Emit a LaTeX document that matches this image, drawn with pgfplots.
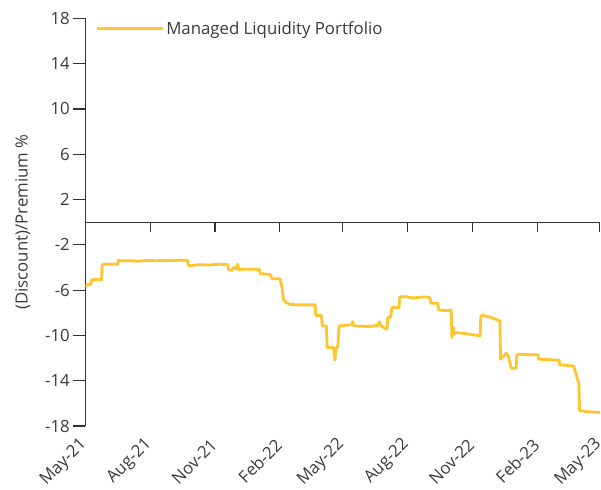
\documentclass[border=0pt]{standalone}
\usepackage{fontspec}
\setmainfont{Open Sans}
\usepackage{pgfplots}
\pgfplotsset{compat=1.18}
\definecolor{mlpgold}{HTML}{FFC52E}
\definecolor{axisgray}{HTML}{333333}
\definecolor{textgray}{HTML}{3A3A3A}

\begin{document}
\begin{tikzpicture}
\begin{axis}[
    scale only axis,
    width=514.7bp,
    height=407.6bp,
    xmin=0, xmax=730,
    ymin=-18, ymax=18,
    axis y line*=left,
    axis x line*=bottom,
    axis line style={-, draw=axisgray, line width=1.1bp},
    x axis line style={draw=none},
    ytick={-18,-14,-10,-6,-2,2,6,10,14,18},
    yticklabels={-18,-14,-10,-6,-2,2,6,10,14,18},
    ytick align=outside,
    major tick length=12bp,
    ytick style={draw=axisgray, line width=1.1bp},
    xtick={0,92,184,276,365,457,549,641,730},
    xticklabels={May-21,Aug-21,Nov-21,Feb-22,May-22,Aug-22,Nov-22,Feb-23,May-23},
    xtick style={draw=none},
    xtick align=inside,
    xticklabel style={xshift=-1bp, yshift=-16bp, inner sep=0pt, rotate=45, anchor=east},
    tick label style={font=\fontsize{16.8bp}{20bp}\selectfont, text=textgray},
    ylabel={(Discount)/Premium \%},
    ylabel style={font=\fontsize{16.8bp}{20bp}\selectfont, text=textgray, yshift=8bp},
    legend style={draw=none, fill=none, at={(axis description cs:0,1)},
        anchor=west, xshift=10bp, yshift=-10bp, inner sep=0pt,
        font=\fontsize{16.8bp}{20bp}\selectfont, text=textgray},
    legend image code/.code={\draw[#1] (0bp,0bp) -- (66bp,0bp);},
]
\draw[axisgray, line width=1.1bp] (axis cs:0,0) -- (axis cs:730,0);
\pgfplotsinvokeforeach{92,184,276,365,457,549,641,730}{
  \draw[axisgray, line width=1.1bp] (axis cs:#1,0) -- ([yshift=-10bp]axis cs:#1,0);
}
\addplot[mlpgold, line width=2.8bp, line join=round] coordinates {
(0,-5.64) (2,-5.6) (3,-5.5) (8,-5.5) (9,-5.1) (14,-5.05) (23,-5.1)
(24,-3.8) (25,-3.73) (40,-3.7) (46,-3.73) (47,-3.35) (55,-3.42)
(65,-3.4) (75,-3.45) (85,-3.38) (100,-3.4) (115,-3.38) (130,-3.37)
(145,-3.35) (146,-3.8) (150,-3.85) (160,-3.75) (175,-3.78) (190,-3.72)
(202,-3.73) (203,-4.2) (208,-4.25) (210,-4.0) (214,-4.1) (216,-3.7)
(217,-4.17) (235,-4.15) (247,-4.17) (248,-4.55) (262,-4.6) (265,-4.99)
(276,-5.0) (278,-5.5) (279,-5.73) (281,-6.8) (285,-7.1) (290,-7.25)
(300,-7.3) (315,-7.3) (326,-7.3) (327,-8.22) (335,-8.25) (336,-9.16)
(342,-9.16) (343,-11.07) (352,-11.07) (354,-12.19) (356,-11.07)
(358,-11.07) (360,-9.16) (370,-9.1) (378,-9.05) (379,-8.78) (381,-9.15)
(395,-9.2) (405,-9.2) (415,-9.1) (417,-8.8) (419,-9.1) (426,-9.45)
(428,-9.4) (429,-8.43) (433,-8.4) (435,-7.54) (445,-7.54) (446,-6.6)
(455,-6.57) (465,-6.7) (475,-6.62) (485,-6.6) (489,-6.7) (490,-7.16)
(500,-7.16) (501,-7.75) (510,-7.8) (519,-7.78) (520,-10.19) (522,-9.3)
(523,-9.9) (525,-9.74) (540,-9.85) (550,-9.95) (560,-10.04) (561,-8.3)
(563,-8.22) (575,-8.4) (588,-8.72) (589,-12.1) (595,-11.7) (597,-11.57)
(600,-11.8) (604,-12.9) (611,-12.9) (612,-11.8) (614,-11.66) (630,-11.7)
(642,-11.7) (643,-12.1) (660,-12.15) (672,-12.2) (673,-12.6) (690,-12.69)
(693,-12.75) (698,-13.86) (700,-14.2) (701,-16.6) (702,-16.65)
(715,-16.75) (730,-16.8)
};
\addlegendentry{Managed Liquidity Portfolio}
\end{axis}
\pgfresetboundingbox
\path (-85.3bp,-64bp) rectangle (515.7bp,426bp);
\end{tikzpicture}
\end{document}
